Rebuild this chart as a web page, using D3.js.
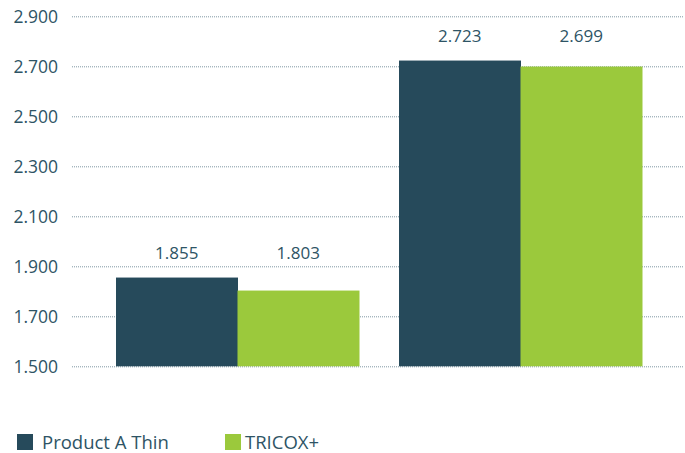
<!DOCTYPE html>
<html>
<head>
<meta charset="utf-8">
<script src="https://cdn.jsdelivr.net/npm/d3@7"></script>
<style>
  html, body { margin: 0; padding: 0; background: #fff; }
  svg { display: block; font-family: "Open Sans", sans-serif; }
</style>
</head>
<body>
<svg id="chart" width="685" height="453"></svg>
<script>
const groups = ["Group 1", "Group 2"];
const seriesNames = ["Product A Thin", "TRICOX+"];
const productAThin = [1.855, 2.723];
const tricoxPlus = [1.803, 2.699];
const tickValues = [1.5, 1.7, 1.9, 2.1, 2.3, 2.5, 2.7, 2.9];
const colors = ["#264a5b", "#9bc93c"];
const textColor = "#2e5465";

const svg = d3.select("#chart");
const fmt = v => d3.format(".3f")(v);

const y = d3.scaleLinear().domain([1.5, 2.9]).range([366.3, 16.3]);
const x0 = d3.scaleBand().domain(groups).range([116, 642]).paddingInner(40 / 283).paddingOuter(0);
const x1 = d3.scaleBand().domain(seriesNames).range([0, x0.bandwidth()]).padding(0);

// gridlines
const grid = svg.append("g").attr("transform", "translate(72,0)")
  .call(d3.axisLeft(y).tickValues(tickValues).tickSize(-612).tickFormat(""));
grid.select(".domain").remove();
grid.selectAll(".tick line")
  .attr("stroke", "#7f97a3")
  .attr("stroke-width", 1)
  .attr("stroke-dasharray", "1,1");

// y tick labels
const yAxis = svg.append("g").attr("transform", "translate(58,0)")
  .call(d3.axisLeft(y).tickValues(tickValues).tickSize(0).tickPadding(0).tickFormat(fmt));
yAxis.select(".domain").remove();
yAxis.selectAll("text")
  .attr("fill", textColor)
  .attr("font-size", "17.5px")
  .attr("font-family", "Open Sans, sans-serif")
  .attr("dy", "0.36em");

const data = groups.map((g, i) => ({
  group: g,
  values: [
    { name: seriesNames[0], value: productAThin[i], color: colors[0] },
    { name: seriesNames[1], value: tricoxPlus[i], color: colors[1] }
  ]
}));

const gGroups = svg.selectAll(".grp").data(data).enter().append("g")
  .attr("class", "grp")
  .attr("transform", d => `translate(${x0(d.group)},0)`);

gGroups.selectAll("rect").data(d => d.values).enter().append("rect")
  .attr("x", d => x1(d.name))
  .attr("width", x1.bandwidth() + 0.5)
  .attr("y", d => y(d.value))
  .attr("height", d => y(1.5) - y(d.value))
  .attr("fill", d => d.color);

gGroups.each(function(d) {
  const maxV = d3.max(d.values, v => v.value);
  d3.select(this).selectAll("text.val").data(d.values).enter().append("text")
    .attr("class", "val")
    .attr("x", v => x1(v.name) + x1.bandwidth() / 2)
    .attr("y", y(maxV) - 19)
    .attr("text-anchor", "middle")
    .attr("fill", textColor)
    .attr("font-size", "17px")
    .text(v => fmt(v.value));
});

// legend
const legendX = [17, 225];
const legend = svg.selectAll(".leg").data(seriesNames).enter().append("g")
  .attr("class", "leg")
  .attr("transform", (d, i) => `translate(${legendX[i]},434)`);
legend.append("rect").attr("width", 16).attr("height", 16).attr("fill", (d, i) => colors[i]);
legend.append("text")
  .attr("x", (d, i) => i === 0 ? 25 : 20)
  .attr("y", 15)
  .attr("fill", textColor)
  .attr("font-size", "18.5px")
  .text(d => d);
</script>
</body>
</html>
